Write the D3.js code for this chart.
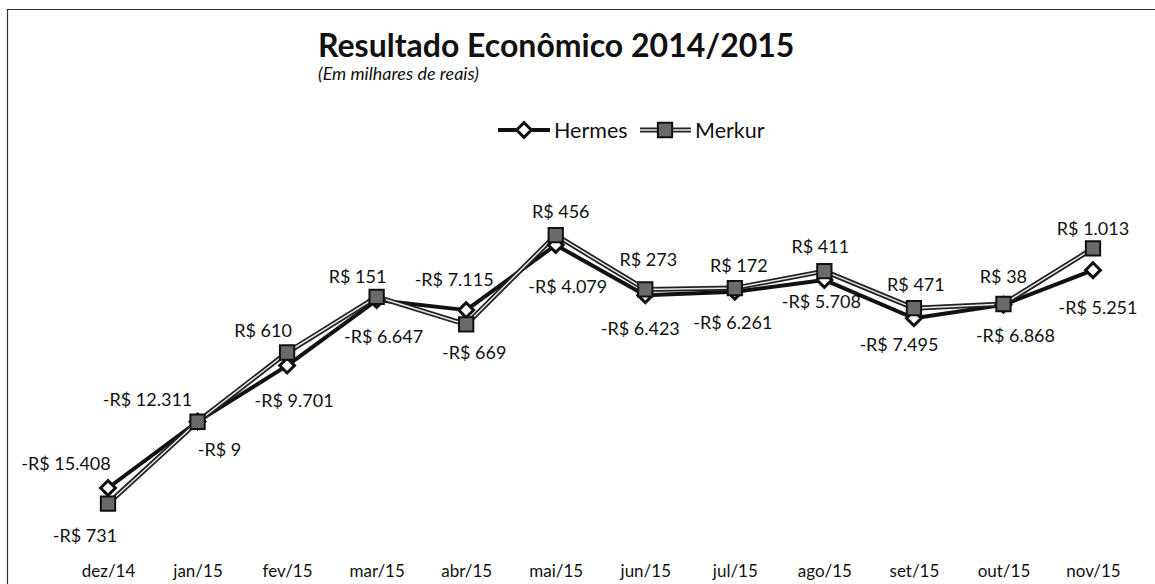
<!DOCTYPE html>
<html>
  <head>
    <meta charset="utf-8" />
    <script src="https://d3js.org/d3.v7.min.js"></script>
    <style>
      body { margin: 0; background: #fff; }
      text { font-family: Lato, "Open Sans", sans-serif; fill: #111; }
      .title { font-size: 32px; font-weight: bold; }
      .subtitle { font-size: 18px; font-style: italic; }
      .legend { font-size: 21.5px; }
      .label { font-size: 18px; }
    </style>
  </head>
  <body>

    <svg id="chart" width="1155" height="584"></svg>

    <script>

      var months = ["dez/14", "jan/15", "fev/15", "mar/15", "abr/15", "mai/15",
                    "jun/15", "jul/15", "ago/15", "set/15", "out/15", "nov/15"];

      // valores em milhares de reais (grafico de linhas empilhadas)
      var hermes = [-15408, -12311, -9701, -6647, -7115, -4079,
                    -6423, -6261, -5708, -7495, -6868, -5251];
      var merkur = [-731, -9, 610, 151, -669, 456,
                    273, 172, 411, 471, 38, 1013];

      var seriesNames = ["Hermes", "Merkur"];

      // deslocamento dos rotulos em relacao ao marcador
      var hermesLabelOffset = [[-42, -25], [-50, -22], [7, 35], [7, 36], [-12, -31], [12, 42],
                               [-5, 33], [-2, 31], [-3, 22], [-15, 26], [12, 31], [5, 37]];
      var merkurLabelOffset = [[-23, 32], [22, 28], [-24, -22], [-19, -20], [8, 28], [5, -24],
                               [3, -30], [4, -23], [-4, -25], [2, -24], [0, -28], [0, -20]];

      var svg = d3.select("#chart");

      var table = months.map(function(m, i) {
        return { month: m, Hermes: hermes[i], Merkur: merkur[i] };
      });

      // linhas empilhadas como no Excel: cada serie soma sobre a anterior
      var stacked = d3.stack().keys(seriesNames)
        .value(function(d, k) { return d[k]; })
        .offset(function(series, order) {
          for (var j = 0; j < series[0].length; j++) {
            var base = 0;
            for (var i = 0; i < order.length; i++) {
              var s = series[order[i]][j];
              var v = s[1] - s[0];
              s[0] = base; s[1] = base + v; base = s[1];
            }
          }
        })(table);

      var cumHermes = stacked[0].map(function(d) { return d[1]; });
      var cumMerkur = stacked[1].map(function(d) { return d[1]; });

      var x = d3.scalePoint().domain(months).range([108, 1093]);
      var y = d3.scaleLinear().domain([-20000, 0]).range([586.5, 157.5]);

      // moldura
      svg.append("line").attr("x1", 7.5).attr("x2", 7.5).attr("y1", 9).attr("y2", 584)
        .attr("stroke", "#333").attr("stroke-width", 1.2);
      svg.append("line").attr("x1", 7).attr("x2", 1155).attr("y1", 9.5).attr("y2", 9.5)
        .attr("stroke", "#333").attr("stroke-width", 1.2);

      // titulo
      svg.append("text").attr("class", "title").attr("x", 318).attr("y", 57)
        .text("Resultado Econômico 2014/2015");
      svg.append("text").attr("class", "subtitle").attr("x", 318).attr("y", 80)
        .text("(Em milhares de reais)");

      // eixo x (so rotulos)
      var xAxis = svg.append("g").attr("transform", "translate(0,577)")
        .call(d3.axisBottom(x).tickSize(0).tickPadding(0));
      xAxis.select(".domain").remove();
      xAxis.selectAll("text").attr("dy", 0)
        .style("font-size", "17px").style("font-family", "Lato, sans-serif").attr("fill", "#111");

      var line = d3.line()
        .x(function(d, i) { return x(months[i]); })
        .y(function(d) { return y(d); });

      // Hermes
      svg.append("path").datum(cumHermes).attr("d", line)
        .attr("fill", "none").attr("stroke", "#111").attr("stroke-width", 4)
        .attr("stroke-linejoin", "round");

      // Merkur (linha contornada)
      svg.append("path").datum(cumMerkur).attr("d", line)
        .attr("fill", "none").attr("stroke", "#222").attr("stroke-width", 5)
        .attr("stroke-linejoin", "round");
      svg.append("path").datum(cumMerkur).attr("d", line)
        .attr("fill", "none").attr("stroke", "#e8e8e8").attr("stroke-width", 1.5)
        .attr("stroke-linejoin", "round");

      function diamond(sel) {
        sel.attr("d", d3.symbol().type(d3.symbolDiamond2).size(140)())
          .attr("fill", "#fff").attr("stroke", "#111").attr("stroke-width", 3);
      }
      function square(sel) {
        sel.attr("d", d3.symbol().type(d3.symbolSquare2).size(260)())
          .attr("fill", "#6a6a6a").attr("stroke", "#111").attr("stroke-width", 2);
      }

      svg.selectAll(".mh").data(cumHermes).enter().append("path")
        .attr("class", "mh")
        .attr("transform", function(d, i) { return "translate(" + x(months[i]) + "," + y(d) + ")"; })
        .call(diamond);

      svg.selectAll(".mm").data(cumMerkur).enter().append("path")
        .attr("class", "mm")
        .attr("transform", function(d, i) { return "translate(" + x(months[i]) + "," + y(d) + ")"; })
        .call(square);

      var fmt = function(v) {
        var s = d3.format(",")(Math.abs(v)).replace(/,/g, ".");
        return (v < 0 ? "-R$ " : "R$ ") + s;
      };

      svg.selectAll(".lh").data(hermes).enter().append("text")
        .attr("class", "label").attr("text-anchor", "middle")
        .attr("x", function(d, i) { return x(months[i]) + hermesLabelOffset[i][0]; })
        .attr("y", function(d, i) { return y(cumHermes[i]) + hermesLabelOffset[i][1] + 6.5; })
        .text(fmt);

      svg.selectAll(".lm").data(merkur).enter().append("text")
        .attr("class", "label").attr("text-anchor", "middle")
        .attr("x", function(d, i) { return x(months[i]) + merkurLabelOffset[i][0]; })
        .attr("y", function(d, i) { return y(cumMerkur[i]) + merkurLabelOffset[i][1] + 6.5; })
        .text(fmt);

      // legenda
      var lg = svg.append("g").attr("transform", "translate(0,130)");
      lg.append("line").attr("x1", 498).attr("x2", 550).attr("stroke", "#111").attr("stroke-width", 4);
      lg.append("path").attr("transform", "translate(524,0)").call(diamond);
      lg.append("text").attr("class", "legend").attr("x", 554).attr("y", 7.5).text("Hermes");
      lg.append("line").attr("x1", 640).attr("x2", 691).attr("stroke", "#222").attr("stroke-width", 5);
      lg.append("line").attr("x1", 640).attr("x2", 691).attr("stroke", "#e8e8e8").attr("stroke-width", 1.5);
      lg.append("path").attr("transform", "translate(665,0)").call(square);
      lg.append("text").attr("class", "legend").attr("x", 695).attr("y", 7.5).text("Merkur");

    </script>

  </body>
</html>
